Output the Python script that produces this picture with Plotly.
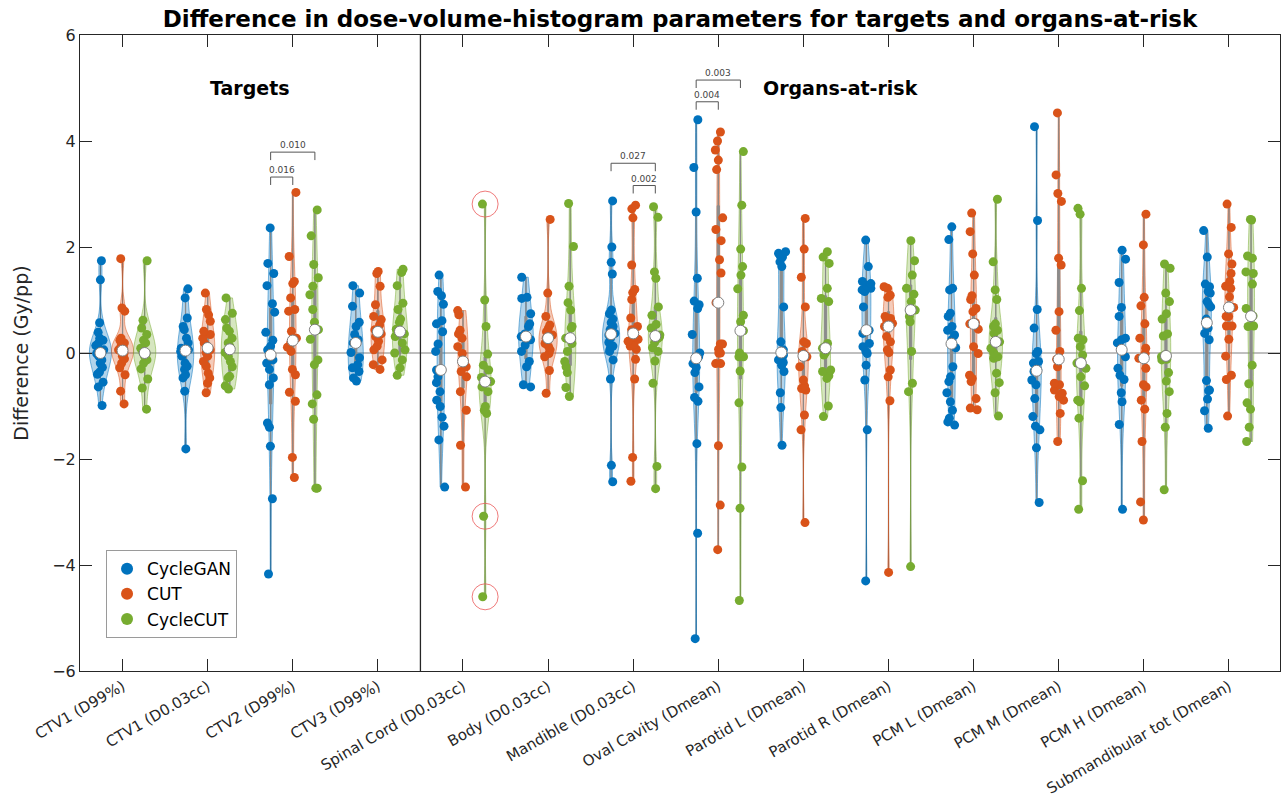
import numpy as np
import plotly.graph_objects as go

categories = ["CTV1 (D99%)", "CTV1 (D0.03cc)", "CTV2 (D99%)", "CTV3 (D99%)",
              "Spinal Cord (D0.03cc)", "Body (D0.03cc)", "Mandible (D0.03cc)",
              "Oval Cavity (Dmean)", "Parotid L (Dmean)", "Parotid R (Dmean)",
              "PCM L (Dmean)", "PCM M (Dmean)", "PCM H (Dmean)", "Submandibular tot (Dmean)"]

series_names = ["CycleGAN", "CUT", "CycleCUT"]
series_colors = ["#0072BD", "#D95319", "#77AC30"]

cyclegan = [
    [1.74, 1.38, 0.57, 0.39, 0.28, 0.24, 0.19, 0.14, 0.06, 0.03, 0.0, -0.01, -0.06, -0.13, -0.19, -0.27, -0.36, -0.40, -0.55, -0.64, -0.99],
    [1.21, 1.04, 0.66, 0.50, 0.44, 0.28, 0.19, 0.09, 0.06, 0.03, -0.06, -0.19, -0.25, -0.31, -0.41, -0.47, -0.72, -1.81],
    [2.36, 1.69, 1.50, 1.27, 0.93, 0.77, 0.39, 0.24, 0.13, 0.06, -0.13, -0.19, -0.31, -0.47, -0.60, -1.32, -1.40, -1.76, -2.75, -4.17],
    [1.27, 1.13, 0.88, 0.58, 0.50, 0.35, 0.25, 0.19, 0.01, -0.09, -0.22, -0.28, -0.35, -0.47, -0.53],
    [1.47, 1.16, 1.08, 0.92, 0.61, 0.55, 0.40, 0.17, 0.03, -0.32, -0.45, -0.56, -0.73, -0.89, -1.01, -1.21, -1.38, -1.64, -2.53],
    [1.43, 1.05, 1.03, 0.74, 0.55, 0.50, 0.36, 0.31, 0.25, 0.15, 0.03, -0.16, -0.26, -0.60, -0.64],
    [2.87, 2.00, 1.71, 1.49, 0.81, 0.74, 0.64, 0.57, 0.50, 0.44, 0.37, 0.34, 0.28, 0.20, 0.13, 0.12, 0.07, 0.03, -0.13, -0.49, -2.12, -2.43],
    [4.40, 3.50, 2.66, 1.41, 0.98, 0.91, 0.84, 0.35, 0.0, -0.07, -0.13, -0.20, -0.27, -0.37, -0.64, -0.84, -0.91, -1.71, -3.40, -5.39],
    [1.91, 1.88, 1.83, 1.81, 1.72, 1.63, 0.87, 0.21, 0.06, 0.01, -0.04, -0.07, -0.13, -0.18, -0.23, -0.35, -0.75, -1.03, -1.74],
    [2.13, 1.63, 1.35, 1.31, 1.28, 1.22, 1.19, 1.16, 0.87, 0.43, 0.37, 0.18, 0.12, 0.03, -0.01, -0.23, -0.51, -1.45, -4.30],
    [2.38, 2.14, 1.22, 1.19, 0.75, 0.69, 0.50, 0.43, 0.34, 0.25, 0.10, -0.26, -0.45, -0.54, -0.75, -0.92, -1.08, -1.23, -1.30, -1.36],
    [4.27, 2.50, 0.82, 0.47, 0.03, -0.01, -0.16, -0.19, -0.32, -0.35, -0.51, -0.60, -0.86, -1.20, -1.38, -1.45, -1.79, -2.82],
    [1.94, 1.77, 1.33, 0.86, 0.69, 0.28, 0.25, 0.19, -0.07, -0.29, -0.42, -0.50, -0.75, -0.92, -1.35, -2.95],
    [2.31, 1.81, 1.30, 1.25, 1.16, 1.13, 0.97, 0.92, 0.87, 0.64, 0.47, 0.50, 0.37, 0.25, -0.52, -0.70, -0.71, -0.87, -1.09, -1.42],
]

cut = [
    [1.78, 0.85, 0.79, 0.28, 0.24, 0.19, 0.14, 0.09, 0.06, 0.03, -0.01, -0.06, -0.11, -0.19, -0.28, -0.41, -0.72, -0.96],
    [1.13, 0.82, 0.72, 0.60, 0.41, 0.35, 0.28, 0.19, 0.13, 0.06, 0.01, -0.06, -0.16, -0.25, -0.38, -0.47, -0.57, -0.75],
    [3.03, 1.82, 1.35, 1.31, 1.04, 0.82, 0.79, 0.41, 0.28, 0.19, 0.11, 0.03, -0.31, -0.41, -0.74, -0.91, -1.97, -2.35],
    [1.54, 1.50, 1.26, 0.91, 0.69, 0.63, 0.53, 0.44, 0.36, 0.31, 0.22, 0.13, 0.06, -0.13, -0.22, -0.31],
    [0.80, 0.72, 0.43, 0.36, 0.28, 0.12, -0.01, -0.16, -0.26, -0.35, -0.45, -0.73, -1.08, -1.74, -2.53],
    [2.52, 1.13, 0.69, 0.53, 0.47, 0.40, 0.34, 0.28, 0.18, 0.12, 0.06, -0.01, -0.07, -0.33, -0.76],
    [2.79, 2.72, 2.55, 1.66, 1.20, 1.14, 1.01, 0.66, 0.50, 0.44, 0.30, 0.26, 0.22, 0.17, 0.13, 0.07, -0.12, -0.49, -1.97, -2.42],
    [4.17, 4.00, 3.83, 3.64, 3.46, 2.55, 2.33, 2.12, 1.76, 1.51, 0.95, 0.17, 0.17, 0.07, 0.0, 0.0, -0.20, -0.20, -1.75, -2.87, -3.71],
    [2.54, 1.96, 1.43, 0.87, 0.21, 0.18, 0.03, -0.01, -0.04, -0.07, -0.26, -0.51, -0.62, -0.67, -0.70, -1.17, -1.45, -3.20],
    [1.25, 1.22, 1.09, 1.05, 0.69, 0.65, 0.62, 0.56, 0.50, 0.31, 0.21, 0.06, 0.01, -0.32, -0.45, -0.90, -4.14],
    [2.64, 2.29, 1.87, 1.47, 1.08, 1.01, 0.84, 0.78, 0.57, 0.55, 0.45, 0.12, -0.01, -0.42, -0.48, -0.54, -0.86, -1.04, -1.07],
    [4.53, 3.36, 3.01, 2.86, 1.79, 1.66, 0.78, 0.43, 0.03, -0.12, -0.26, -0.57, -0.60, -0.70, -0.76, -0.82, -0.89, -1.14, -1.67],
    [2.62, 2.04, 1.05, 0.89, 0.55, 0.28, 0.09, -0.01, -0.10, -0.29, -0.60, -0.64, -0.89, -1.06, -1.67, -2.81, -3.15],
    [2.81, 2.37, 1.87, 1.68, 1.50, 1.35, 1.26, 1.22, 1.06, 0.86, 0.69, 0.69, 0.51, 0.51, 0.26, -0.06, -0.42, -0.50, -1.19],
]

cyclecut = [
    [1.74, 0.62, 0.47, 0.35, 0.24, 0.19, 0.09, 0.01, -0.01, -0.06, -0.13, -0.19, -0.30, -0.49, -0.66, -1.06],
    [1.04, 0.75, 0.63, 0.47, 0.41, 0.28, 0.19, 0.13, 0.01, -0.06, -0.16, -0.26, -0.44, -0.47, -0.62, -0.68],
    [2.70, 2.21, 1.67, 1.42, 1.26, 1.10, 0.82, 0.58, 0.44, 0.26, -0.13, -0.22, -0.79, -0.96, -1.25, -2.55, -2.55],
    [1.58, 1.52, 1.27, 0.94, 0.82, 0.64, 0.58, 0.45, 0.36, 0.31, 0.19, 0.06, 0.0, -0.13, -0.28, -0.42],
    [2.81, 1.00, 0.50, -0.02, -0.23, -0.32, -0.46, -0.54, -0.64, -0.73, -1.01, -1.08, -1.14, -3.08, -4.60],
    [2.82, 2.01, 1.26, 0.95, 0.81, 0.50, 0.47, 0.28, 0.18, 0.03, -0.16, -0.26, -0.37, -0.65, -0.82],
    [2.76, 2.56, 1.53, 1.41, 0.87, 0.71, 0.54, 0.47, 0.34, 0.30, 0.27, 0.20, 0.10, 0.03, -0.15, -0.57, -2.14, -2.56],
    [3.80, 2.79, 1.96, 1.63, 1.47, 1.21, 0.71, 0.59, 0.42, 0.0, -0.07, -0.07, -0.34, -0.94, -2.15, -2.93, -4.67],
    [1.91, 1.81, 1.69, 1.22, 1.03, 0.97, 0.18, 0.12, 0.09, 0.01, -0.04, -0.32, -0.35, -0.43, -0.48, -1.00, -1.20],
    [2.12, 1.74, 1.47, 1.22, 1.11, 0.97, 0.81, 0.69, 0.59, 0.03, -0.57, -0.73, -4.03],
    [2.90, 1.72, 1.19, 1.01, 0.55, 0.50, 0.43, 0.37, 0.21, 0.09, 0.0, -0.07, -0.10, -0.38, -0.56, -0.75, -1.19],
    [2.73, 2.62, 1.22, 0.80, 0.28, 0.25, 0.12, -0.04, -0.19, -0.29, -0.45, -0.62, -0.89, -0.92, -1.23, -2.41, -2.95],
    [1.68, 1.60, 1.13, 0.97, 0.74, 0.64, 0.36, 0.32, -0.04, -0.07, -0.12, -0.13, -0.37, -0.53, -0.73, -1.14, -1.40, -2.58],
    [2.52, 2.51, 1.83, 1.79, 1.53, 1.50, 1.30, 0.84, 0.70, 0.69, 0.51, 0.50, -0.23, -0.58, -0.94, -1.06, -1.40, -1.67],
]

# significance brackets: (category number, series a, series b, bracket level, p-value label)
sig_tests = [
    (3, 0, 1, 3.32, "0.016"),
    (3, 0, 2, 3.79, "0.010"),
    (7, 0, 2, 3.58, "0.027"),
    (7, 1, 2, 3.16, "0.002"),
    (8, 0, 1, 4.74, "0.004"),
    (8, 0, 2, 5.15, "0.003"),
]

# highlighted outlier points: (category number, series index, value)
circled_points = [(5, 2, 2.81), (5, 2, -3.08), (5, 2, -4.60)]

group_labels = [("Targets", 2.5), ("Organs-at-risk", 9.43)]

all_data = [cyclegan, cut, cyclecut]
offsets = [-0.26, 0.0, 0.26]
FONT = "DejaVu Sans"
AX = "#262626"


def rgba(hexc, a):
    h = hexc.lstrip("#")
    return "rgba(%d,%d,%d,%.2f)" % (int(h[0:2], 16), int(h[2:4], 16), int(h[4:6], 16), a)


fig = go.Figure()
shapes = []

for s, data in enumerate(all_data):
    xs, ys = [], []
    for i, vals in enumerate(data):
        xs += [i + 1 + offsets[s]] * len(vals)
        ys += vals
        shapes.append(dict(type="line", xref="x", yref="y", layer="below",
                           x0=i + 1 + offsets[s], x1=i + 1 + offsets[s],
                           y0=min(vals), y1=max(vals),
                           line=dict(color="rgba(110,110,110,0.9)", width=1.2)))
    fig.add_trace(go.Violin(
        x=xs, y=ys, name=series_names[s], showlegend=False,
        width=0.26, scalemode="width", spanmode="hard",
        fillcolor=rgba(series_colors[s], 0.3),
        line=dict(color=rgba(series_colors[s], 0.5), width=1),
        points="all", pointpos=0, jitter=0.5,
        marker=dict(color=series_colors[s], size=9, line=dict(width=0)),
        box=dict(visible=True, width=0.1, fillcolor="#8c8c8c",
                 line=dict(color="#8c8c8c", width=1)),
        meanline=dict(visible=False),
        hoverinfo="y",
    ))

for s, data in enumerate(all_data):
    fig.add_trace(go.Scatter(
        x=[i + 1 + offsets[s] for i in range(len(data))],
        y=[float(np.median(v)) for v in data],
        mode="markers", showlegend=False, hoverinfo="y",
        marker=dict(color="white", size=11, line=dict(color="#7f7f7f", width=1)),
    ))

for s in range(3):
    fig.add_trace(go.Scatter(x=[None], y=[None], mode="markers", name=series_names[s],
                             marker=dict(color=series_colors[s], size=14)))

shapes.append(dict(type="line", xref="paper", yref="y", x0=0, x1=1, y0=0, y1=0,
                   layer="below", line=dict(color="#808080", width=1)))
shapes.append(dict(type="line", xref="x", yref="paper", x0=4.5, x1=4.5, y0=0, y1=1,
                   line=dict(color=AX, width=1.3)))

annotations = []
leg = 0.15
for cat, a, b, lvl, lab in sig_tests:
    xa, xb = cat + offsets[a], cat + offsets[b]
    shapes.append(dict(type="path", xref="x", yref="y",
                       path="M %f,%f L %f,%f L %f,%f L %f,%f" % (xa, lvl - leg, xa, lvl, xb, lvl, xb, lvl - leg),
                       line=dict(color="#555555", width=1)))
    annotations.append(dict(x=(xa + xb) / 2, y=lvl, xref="x", yref="y", text=lab,
                            showarrow=False, yanchor="bottom", yshift=0,
                            font=dict(family=FONT, size=9, color="#444444")))

for cat, s, val in circled_points:
    shapes.append(dict(type="circle", xref="x", yref="y", xsizemode="pixel", ysizemode="pixel",
                       xanchor=cat + offsets[s], yanchor=val, x0=-13, x1=13, y0=-13, y1=13,
                       line=dict(color="rgba(235,90,90,0.8)", width=1)))

for txt, xc in group_labels:
    annotations.append(dict(x=xc, y=5.0, xref="x", yref="y", text="<b>%s</b>" % txt,
                            showarrow=False, font=dict(family=FONT, size=19, color="black")))

fig.update_layout(
    width=1282, height=812,
    margin=dict(l=80, r=2, t=35, b=141),
    paper_bgcolor="white", plot_bgcolor="white",
    violinmode="overlay",
    title=dict(text="<b>Difference in dose-volume-histogram parameters for targets and organs-at-risk</b>",
               x=680 / 1282, xanchor="center", y=1 - 19 / 812, yanchor="middle", yref="container",
               font=dict(family=FONT, size=23, color="black")),
    shapes=shapes, annotations=annotations,
    legend=dict(x=0.0217, y=0.19, xanchor="left", yanchor="top",
                bgcolor="white", bordercolor="#9a9a9a", borderwidth=1,
                font=dict(family=FONT, size=17, color="black"), itemsizing="constant",
                tracegroupgap=0),
    font=dict(family=FONT, color=AX),
)

fig.update_xaxes(range=[0.5, 14.6], tickmode="array", tickvals=list(range(1, 15)), ticktext=categories,
                 tickangle=-30, ticks="inside", ticklen=12, tickcolor=AX, showline=True, linecolor=AX,
                 mirror="ticks", showgrid=False, zeroline=False, automargin=False,
                 tickfont=dict(family=FONT, size=15, color=AX))
fig.update_yaxes(range=[-6, 6], tickmode="array", tickvals=[-6, -4, -2, 0, 2, 4, 6],
                 ticks="inside", ticklen=12, tickcolor=AX, showline=True, linecolor=AX,
                 mirror="ticks", showgrid=False, zeroline=False, automargin=False,
                 tickfont=dict(family=FONT, size=16, color=AX),
                 title=dict(text="Difference (Gy/pp)", font=dict(family=FONT, size=19, color=AX), standoff=18))

fig.write_html("out.html", config={"displayModeBar": False},
               post_script="document.body.style.margin='0px';")
